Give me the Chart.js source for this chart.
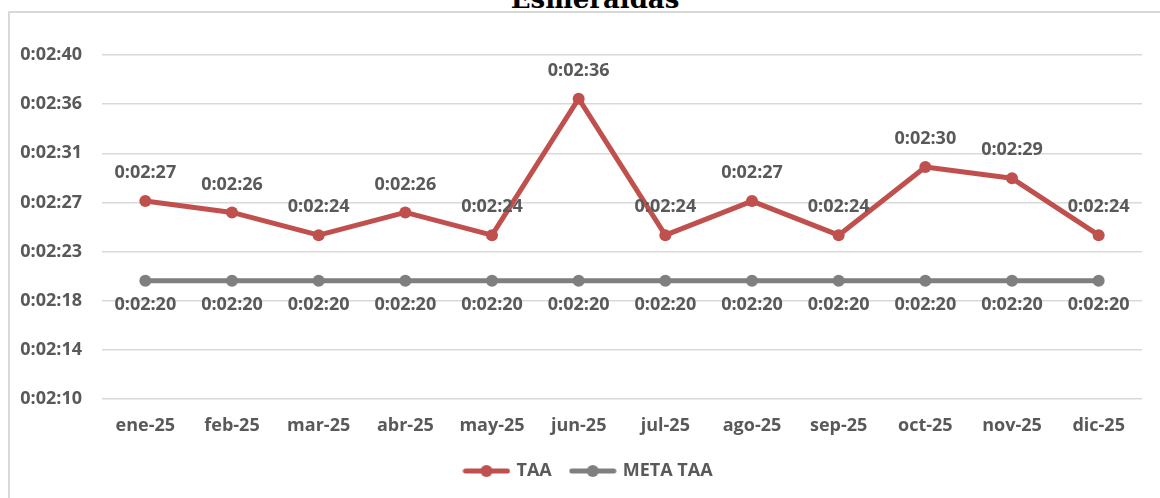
<!DOCTYPE html>
<html>
<head>
<meta charset="utf-8">
<script src="https://cdn.jsdelivr.net/npm/chart.js@4/dist/chart.umd.min.js"></script>
<style>
  html, body { margin: 0; padding: 0; background: #ffffff; overflow: hidden; }
  body { width: 1160px; height: 498px; position: relative; }
  #title {
    position: absolute; left: 15px; width: 1160px; top: -14px;
    text-align: center; font-family: "DejaVu Serif", serif; font-weight: bold;
    font-size: 26px; line-height: 26px; color: #000000;
  }
  #frame {
    position: absolute; left: 8px; top: 11px; width: 1152px; height: 487px;
    border-left: 2px solid #d9d9d9; border-top: 2px solid #d9d9d9;
  }
  #chart { display: block; }
</style>
</head>
<body>
<div id="title">Esmeraldas</div>
<div id="frame"><canvas id="chart" width="1150" height="485"></canvas></div>
<script>
// Months of 2025
const months = ['ene-25', 'feb-25', 'mar-25', 'abr-25', 'may-25', 'jun-25',
                'jul-25', 'ago-25', 'sep-25', 'oct-25', 'nov-25', 'dic-25'];

// Average attention time, in seconds
const taaSeconds = [147, 146, 144, 146, 144, 156, 144, 147, 144, 150, 149, 144];

// Target attention time, in seconds
const metaSeconds = [140, 140, 140, 140, 140, 140, 140, 140, 140, 140, 140, 140];

// Vertical axis: range and labels (time of day, h:mm:ss)
const yMin = 129.6;
const yMax = 159.84;
const yStep = 4.32;
const yTickLabels = ['0:02:10', '0:02:14', '0:02:18', '0:02:23',
                     '0:02:27', '0:02:31', '0:02:36', '0:02:40'];

const RED = '#c0504d';
const GREY = '#7f7f7f';
const TEXT = '#595959';
const FONT = '"Open Sans", "Liberation Sans", sans-serif';

function fmtTime(sec) {
  const s = Math.round(sec);
  const m = Math.floor(s / 60);
  const r = s % 60;
  return '0:' + String(m).padStart(2, '0') + ':' + String(r).padStart(2, '0');
}

// Small legend swatch: line with a centred dot
function swatch(color) {
  const c = document.createElement('canvas');
  c.width = 48; c.height = 14;
  const g = c.getContext('2d');
  g.strokeStyle = color; g.lineWidth = 5; g.lineCap = 'round';
  g.beginPath(); g.moveTo(3, 7); g.lineTo(45, 7); g.stroke();
  g.fillStyle = color;
  g.beginPath(); g.arc(24, 7, 6, 0, Math.PI * 2); g.fill();
  return c;
}

// Value labels drawn above / below each point
const valueLabels = {
  id: 'valueLabels',
  afterDatasetsDraw(chart) {
    const ctx = chart.ctx;
    ctx.save();
    ctx.font = 'bold 18px ' + FONT;
    ctx.fillStyle = TEXT;
    ctx.textAlign = 'center';
    ctx.textBaseline = 'middle';
    chart.data.datasets.forEach((ds, i) => {
      const meta = chart.getDatasetMeta(i);
      const dy = ds.labelOffset;
      meta.data.forEach((pt, j) => {
        ctx.fillText(fmtTime(ds.data[j]), pt.x, pt.y + dy);
      });
    });
    ctx.restore();
  }
};

// Nudge the legend a little to the right of the canvas centre
const legendNudge = {
  id: 'legendNudge',
  afterLayout(chart) {
    if (chart.legend) {
      chart.legend.left += 13;
      chart.legend.right += 13;
    }
  }
};

new Chart(document.getElementById('chart'), {
  type: 'line',
  data: {
    labels: months,
    datasets: [
      {
        label: 'TAA',
        data: taaSeconds,
        borderColor: RED,
        backgroundColor: RED,
        borderWidth: 5,
        pointRadius: 6,
        pointBackgroundColor: RED,
        pointBorderWidth: 0,
        labelOffset: -28,
        order: 0
      },
      {
        label: 'META TAA',
        data: metaSeconds,
        borderColor: GREY,
        backgroundColor: GREY,
        borderWidth: 5,
        pointRadius: 6,
        pointBackgroundColor: GREY,
        pointBorderWidth: 0,
        labelOffset: 24,
        order: 1
      }
    ]
  },
  options: {
    responsive: false,
    animation: false,
    layout: { padding: { top: 42, right: 18, left: 0, bottom: 8 } },
    elements: {
      line: { tension: 0, borderJoinStyle: 'round', borderCapStyle: 'round' },
      point: { pointStyle: 'circle' }
    },
    plugins: {
      title: { display: false },
      tooltip: { enabled: false },
      legend: {
        position: 'bottom',
        labels: {
          usePointStyle: true,
          pointStyleWidth: 42,
          boxHeight: 14,
          padding: 20,
          color: TEXT,
          font: { family: FONT, size: 18, weight: 'bold' },
          generateLabels(chart) {
            return chart.data.datasets.map((ds, i) => ({
              text: ds.label,
              pointStyle: swatch(ds.borderColor),
              fontColor: TEXT,
              lineWidth: 0,
              strokeStyle: 'transparent',
              fillStyle: ds.borderColor,
              hidden: false,
              datasetIndex: i
            }));
          }
        }
      }
    },
    scales: {
      x: {
        offset: true,
        grid: { display: false, drawTicks: false },
        border: { display: false },
        ticks: {
          color: TEXT, padding: 16,
          font: { family: FONT, size: 18, weight: 'bold' },
          maxRotation: 0, autoSkip: false
        },
        afterFit(scale) { scale.height = 43; }
      },
      y: {
        min: yMin,
        max: yMax,
        grid: { color: '#d9d9d9', lineWidth: 1.5, drawTicks: false },
        border: { display: false },
        ticks: {
          color: TEXT, padding: 20,
          font: { family: FONT, size: 18, weight: 'bold' },
          callback(value, index) { return yTickLabels[index]; }
        },
        afterBuildTicks(scale) {
          scale.ticks = yTickLabels.map((_, i) => ({ value: yMin + i * yStep }));
        },
        afterFit(scale) { scale.width = 92; }
      }
    }
  },
  plugins: [valueLabels, legendNudge]
});
</script>
</body>
</html>
